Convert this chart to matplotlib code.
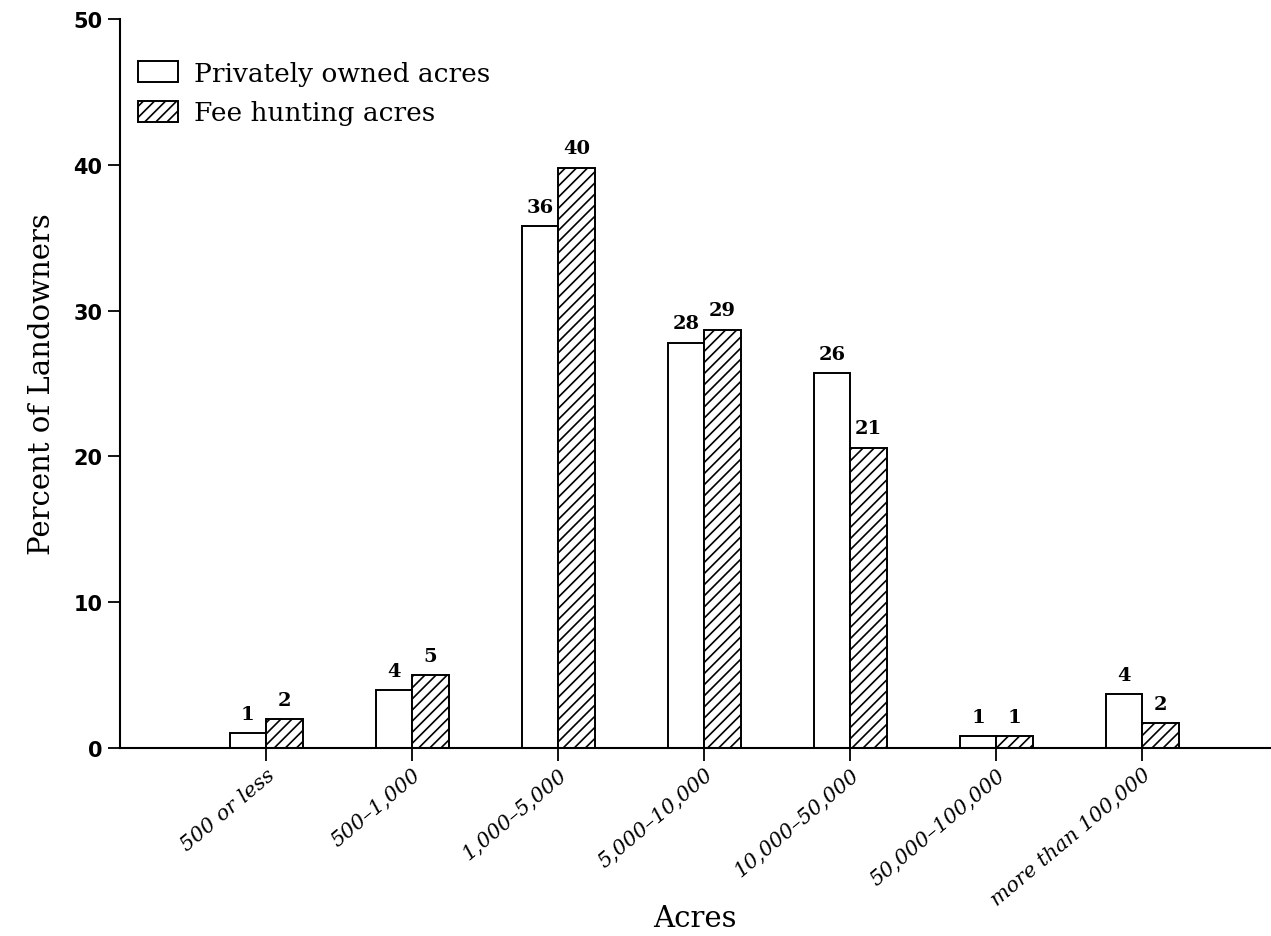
import numpy as np
import matplotlib.pyplot as plt

# Data
categories = ['500 or less', '500\u20131,000', '1,000\u20135,000', '5,000\u201310,000',
              '10,000\u201350,000', '50,000\u2013100,000', 'more than 100,000']
private_pct = [1.0, 4.0, 35.8, 27.8, 25.7, 0.8, 3.7]
fee_pct = [2.0, 5.0, 39.8, 28.7, 20.6, 0.8, 1.7]
private_lbl = ['1', '4', '36', '28', '26', '1', '4']
fee_lbl = ['2', '5', '40', '29', '21', '1', '2']
yticks = [0, 10, 20, 30, 40, 50]

plt.rcParams['hatch.linewidth'] = 1.2
fig = plt.figure(figsize=(12.71, 9.37), dpi=100)
ax = fig.add_axes([0.0944, 0.2006, 0.9056, 0.7781])

x = np.arange(len(categories))
w = 0.25
b1 = ax.bar(x - w/2, private_pct, w, color='white', edgecolor='black',
            linewidth=1.4, label='Privately owned acres')
b2 = ax.bar(x + w/2, fee_pct, w, color='white', edgecolor='black',
            linewidth=1.4, hatch='///', label='Fee hunting acres')

for bars, lbls in [(b1, private_lbl), (b2, fee_lbl)]:
    for r, t in zip(bars, lbls):
        ax.text(r.get_x() + r.get_width()/2, r.get_height() + 0.7, t,
                ha='center', va='bottom', fontsize=14, fontweight='bold',
                family='DejaVu Serif')

ax.set_xlim(-1.0, 6.88)
ax.set_ylim(0, 50)
ax.set_yticks(yticks)
ax.set_yticklabels([str(v) for v in yticks], fontsize=15, fontweight='bold')
ax.set_xticks(x)
ax.set_xticklabels(categories, rotation=40, ha='right', rotation_mode='anchor',
                   fontsize=15, style='italic', family='DejaVu Serif')
ax.tick_params(axis='both', direction='out', length=9, width=1.3)
ax.tick_params(axis='x', pad=3)

for s in ['top', 'right']:
    ax.spines[s].set_visible(False)
ax.spines['left'].set_linewidth(1.5)
ax.spines['bottom'].set_linewidth(1.5)

ax.set_ylabel('Percent of Landowners', fontsize=21, family='DejaVu Serif')
ax.yaxis.set_label_coords(-0.056, 0.5)
ax.set_xlabel('Acres', fontsize=21, family='DejaVu Serif')
ax.xaxis.set_label_coords(0.4996, -0.214)

ax.legend(loc='upper left', bbox_to_anchor=(0.0, 0.968), frameon=False,
          prop={'family': 'DejaVu Serif', 'size': 19},
          handlelength=1.5, handleheight=0.85, handletextpad=0.6, labelspacing=0.55,
          borderaxespad=0.3)

fig.savefig('out.png', dpi=100)
